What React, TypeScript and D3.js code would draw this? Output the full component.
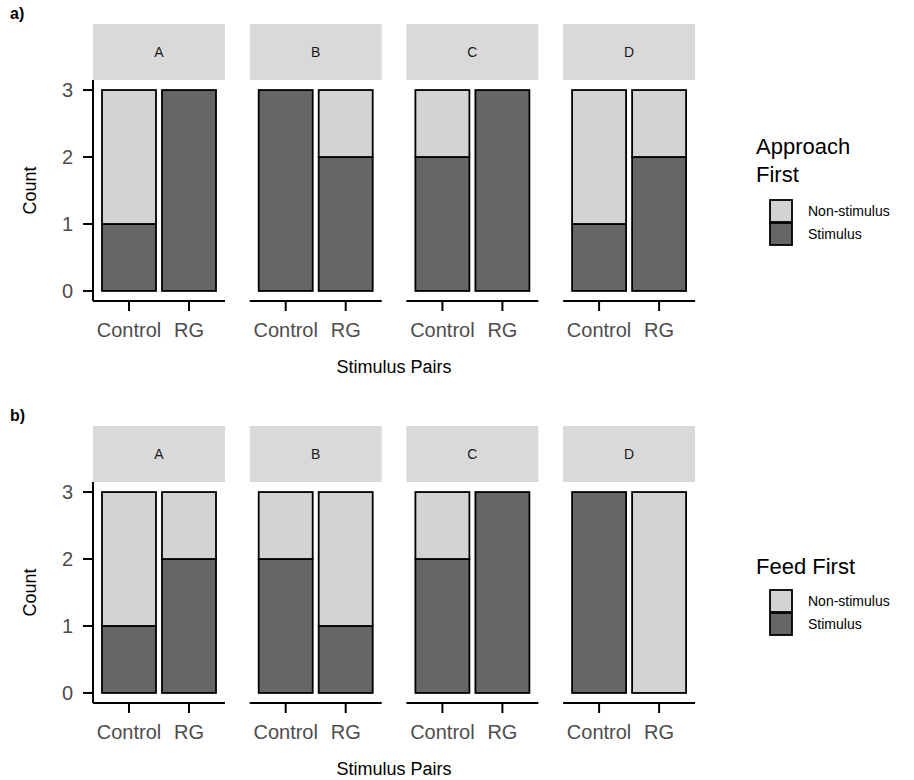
import React from "react";
import * as d3 from "d3";

const sites = ["A", "B", "C", "D"];
const pairs = ["Control", "RG"];
const yTicks = [0, 1, 2, 3];
const legendKeys = ["Non-stimulus", "Stimulus"];

// counts per site, in pair order [Control, RG]
const approachStimulus = [[1, 3], [3, 2], [2, 3], [1, 2]];
const approachNonStimulus = [[2, 0], [0, 1], [1, 0], [2, 1]];
const feedStimulus = [[1, 2], [2, 1], [2, 3], [3, 0]];
const feedNonStimulus = [[2, 1], [1, 2], [1, 0], [0, 3]];

const FILL: Record<string, string> = { "Non-stimulus": "#d3d3d3", Stimulus: "#666666" };
const FONT = "Liberation Sans, Arial, Helvetica, sans-serif";

const W = 914;
const H = 780;
const PANEL_W = 132;
const PANEL_LEFT0 = 93;
const PANEL_STEP = 156.7;

type Row = { site: string; pair: string; Stimulus: number; "Non-stimulus": number };

function buildRows(stim: number[][], non: number[][]): Row[] {
  const rows: Row[] = [];
  sites.forEach((s, i) =>
    pairs.forEach((p, j) =>
      rows.push({ site: s, pair: p, Stimulus: stim[i][j], "Non-stimulus": non[i][j] })
    )
  );
  return rows;
}

function Chart({ top, tag, title, rows }: { top: number; tag: string; title: string[]; rows: Row[] }) {
  const stripTop = top + 24;
  const panelTop = top + 80;
  const panelBottom = top + 301;
  const y = d3.scaleLinear().domain([-0.15, 3.15]).range([panelBottom, panelTop]);
  const stack = d3.stack<Row>().keys(["Stimulus", "Non-stimulus"]);
  const series = stack(rows);
  const midX = PANEL_LEFT0 + (3 * PANEL_STEP + PANEL_W) / 2;

  return (
    <g fontFamily={FONT}>
      <text x={10} y={top + 19} fontSize={16} fontWeight="bold" fill="#000">{tag}</text>
      {sites.map((s, i) => {
        const left = PANEL_LEFT0 + i * PANEL_STEP;
        const x = d3.scalePoint<string>().domain(pairs).range([left, left + PANEL_W]).padding(0.6);
        const bw = x.step() * 0.9;
        return (
          <g key={s}>
            <rect x={left} y={stripTop} width={PANEL_W} height={panelTop - stripTop} fill="#d9d9d9" />
            <text x={left + PANEL_W / 2} y={(stripTop + panelTop) / 2} dy="0.35em" textAnchor="middle" fontSize={14} fill="#1a1a1a">{s}</text>
            {series.map((ser) =>
              ser
                .filter((d) => d.data.site === s && d[1] > d[0])
                .map((d) => (
                  <rect
                    key={ser.key + d.data.pair}
                    x={(x(d.data.pair) as number) - bw / 2}
                    y={y(d[1])}
                    width={bw}
                    height={y(d[0]) - y(d[1])}
                    fill={FILL[ser.key]}
                    stroke="#000"
                    strokeWidth={1.8}
                  />
                ))
            )}
            <line x1={left} x2={left + PANEL_W} y1={panelBottom} y2={panelBottom} stroke="#000" strokeWidth={2} />
            {pairs.map((p) => (
              <g key={p}>
                <line x1={x(p)} x2={x(p)} y1={panelBottom} y2={panelBottom + 10} stroke="#000" strokeWidth={2} />
                <text x={x(p)} y={panelBottom + 36} textAnchor="middle" fontSize={20} fill="#4d4d4d">{p}</text>
              </g>
            ))}
            {i === 0 && (
              <g>
                <line x1={left} x2={left} y1={panelTop} y2={panelBottom} stroke="#000" strokeWidth={2} />
                {yTicks.map((t) => (
                  <g key={t}>
                    <line x1={left - 10} x2={left} y1={y(t)} y2={y(t)} stroke="#000" strokeWidth={2} />
                    <text x={left - 20} y={y(t)} dy="0.36em" textAnchor="end" fontSize={20} fill="#4d4d4d">{t}</text>
                  </g>
                ))}
              </g>
            )}
          </g>
        );
      })}
      <text
        transform={`translate(36,${(panelTop + panelBottom) / 2}) rotate(-90)`}
        textAnchor="middle"
        fontSize={18}
        fill="#000"
      >
        Count
      </text>
      <text x={midX} y={top + 373} textAnchor="middle" fontSize={18} fill="#000">Stimulus Pairs</text>
      {/* legend */}
      {title.map((line, k) => (
        <text key={line} x={756} y={top + (title.length === 2 ? 154 : 172) + k * 28} fontSize={22} fill="#000">{line}</text>
      ))}
      {legendKeys.map((k, j) => {
        const ky = top + (title.length === 2 ? 200 : 188) + j * 23;
        return (
          <g key={k}>
            <rect x={770} y={ky} width={22} height={22} fill={FILL[k]} stroke="#000" strokeWidth={1.8} />
            <text x={808} y={ky + 11} dy="0.35em" fontSize={14} fill="#000">{k}</text>
          </g>
        );
      })}
    </g>
  );
}

export default function App() {
  const a = buildRows(approachStimulus, approachNonStimulus);
  const b = buildRows(feedStimulus, feedNonStimulus);
  return (
    <svg width={W} height={H} style={{ position: "absolute", left: 0, top: 0, background: "#fff" }}>
      <rect width={W} height={H} fill="#fff" />
      <Chart top={0} tag="a)" title={["Approach", "First"]} rows={a} />
      <Chart top={402} tag="b)" title={["Feed First"]} rows={b} />
    </svg>
  );
}
